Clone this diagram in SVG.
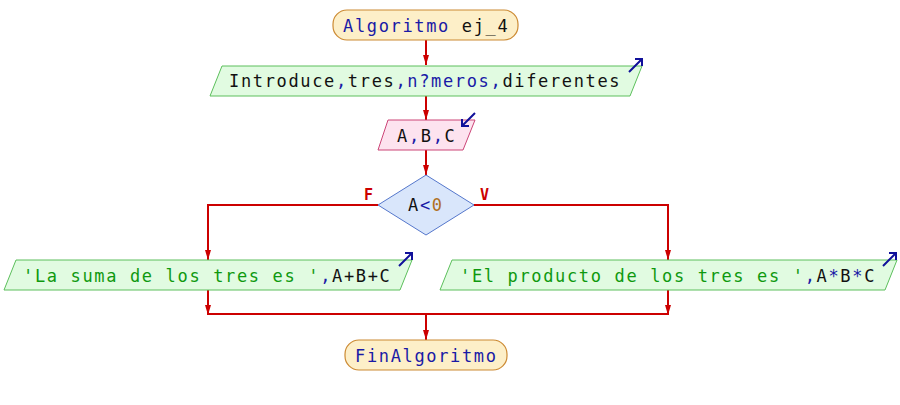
<svg xmlns="http://www.w3.org/2000/svg" width="900" height="405" viewBox="0 0 900 405">
<defs>
<style>
text{font-family:"DejaVu Sans Mono","Liberation Mono",monospace;font-size:17px;letter-spacing:1.65px;fill:#111}
.kw{fill:#1a1aa6}
.op{fill:#1a1aa6}
.str{fill:#0f990f}
.num{fill:#b07020}
.lbl{font-size:15px;font-weight:bold;fill:#cc0000;letter-spacing:0}
.term{fill:#fdefc8;stroke:#cc8a33;stroke-width:1.2}
.io{fill:#e1fbe1;stroke:#5cbf5c;stroke-width:1}
.inp{fill:#fde3ef;stroke:#cc4477;stroke-width:1}
.dec{fill:#d9e6fb;stroke:#5577cc;stroke-width:1}
.icon{fill:none;stroke:#11119a;stroke-width:2}
.c{fill:none;stroke:#cc0000;stroke-width:2}
</style>
<marker id="ah" viewBox="0 0 10 6" refX="10" refY="3" markerWidth="10" markerHeight="6" markerUnits="userSpaceOnUse" orient="auto">
<path d="M0,0 L10,3 L0,6 z" fill="#cc0000"/>
</marker>
</defs>
<g id="connectors">
<path class="c" d="M426,40 V65" marker-end="url(#ah)"/>
<path class="c" d="M426,96 V120" marker-end="url(#ah)"/>
<path class="c" d="M426,150 V175" marker-end="url(#ah)"/>
<path class="c" d="M378,205 H208 V260" marker-end="url(#ah)"/>
<path class="c" d="M474,205 H668 V260" marker-end="url(#ah)"/>
<path class="c" d="M208,290 V315" marker-end="url(#ah)"/>
<path class="c" d="M668,290 V315" marker-end="url(#ah)"/>
<path class="c" d="M208,314 H668"/>
<path class="c" d="M426,314 V340" marker-end="url(#ah)"/>
<text class="lbl" x="364" y="200">F</text>
<text class="lbl" x="480" y="200">V</text>
</g>
<g id="start">
<rect class="term" x="333" y="10" width="185" height="30" rx="14" ry="14"/>
<text x="343" y="32"><tspan class="kw">Algoritmo</tspan> ej_4</text>
</g>
<g id="out1">
<polygon class="io" points="222,66 642,66 630,96 210,96"/>
<text x="229" y="87">Introduce<tspan class="op">,</tspan>tres<tspan class="op">,n?meros,</tspan>diferentes</text>
<path class="icon" d="M629,72 L642,59 M635,59 H642 V66"/>
</g>
<g id="in1">
<polygon class="inp" points="388,120 475,120 463,150 378,150"/>
<text x="397" y="142">A<tspan class="op">,</tspan>B<tspan class="op">,</tspan>C</text>
<path class="icon" d="M475,113 L462,126 M462,119 V126 H469"/>
</g>
<g id="cond">
<polygon class="dec" points="426,175 474,205 426,235 378,205"/>
<text x="408" y="211">A<tspan class="op">&lt;</tspan><tspan class="num">0</tspan></text>
</g>
<g id="outF">
<polygon class="io" points="16,260 412,260 400,290 4,290"/>
<text x="23" y="282"><tspan class="str">'La suma de los tres es '</tspan><tspan class="op">,</tspan>A+B+C</text>
<path class="icon" d="M399,266 L412,253 M405,253 H412 V260"/>
</g>
<g id="outV">
<polygon class="io" points="452,260 897,260 885,290 440,290"/>
<text x="460" y="282"><tspan class="str">'El producto de los tres es '</tspan><tspan class="op">,</tspan>A<tspan class="op">*</tspan>B<tspan class="op">*</tspan>C</text>
<path class="icon" d="M883,266 L896,253 M889,253 H896 V260"/>
</g>
<g id="end">
<rect class="term" x="345" y="340" width="162" height="30" rx="14" ry="14"/>
<text x="355" y="362" class="kw">FinAlgoritmo</text>
</g>
</svg>
